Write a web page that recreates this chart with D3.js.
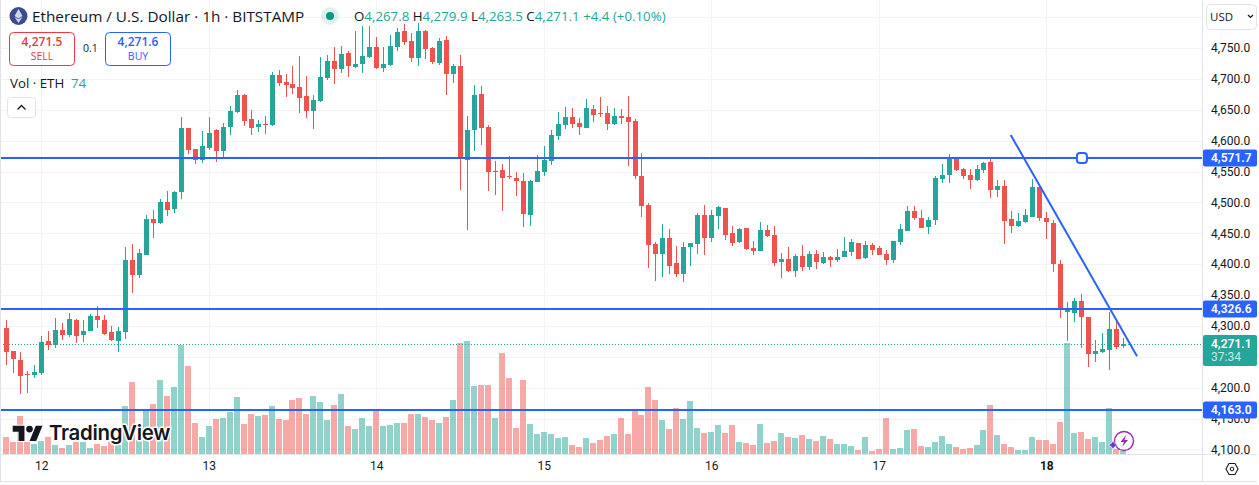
<!DOCTYPE html>
<html><head><meta charset="utf-8">
<script src="https://cdn.jsdelivr.net/npm/d3@7/dist/d3.min.js"></script>
<style>
html,body{margin:0;padding:0;background:#fff;overflow:hidden}
svg{display:block;font-family:"Open Sans",Roboto,sans-serif}
.pa .domain,.pa .tick line,.ta .domain,.ta .tick line{display:none}
</style></head><body><div id="c"></div>
<script>
const opens=[4297,4259,4245,4222,4220,4224,4275,4269,4293,4285,4310,4285,4292,4316,4310,4290,4275,4290,4407,4382,4415,4473,4466,4500,4489,4517,4620,4586,4569,4588,4617,4583,4622,4646,4674,4635,4622,4627,4625,4706,4695,4692,4687,4672,4648,4664,4701,4729,4716,4742,4719,4724,4735,4752,4718,4722,4752,4778,4761,4734,4778,4750,4726,4763,4708,4721,4569,4617,4676,4622,4549,4552,4543,4539,4535,4480,4533,4549,4567,4608,4625,4638,4629,4620,4651,4645,4645,4627,4640,4638,4632,4543,4496,4433,4416,4442,4402,4384,4428,4433,4480,4442,4478,4491,4450,4436,4459,4426,4421,4455,4447,4403,4408,4389,4413,4395,4416,4402,4411,4407,4411,4420,4434,4410,4431,4426,4416,4407,4436,4454,4486,4475,4460,4471,4538,4544,4570,4554,4544,4536,4552,4565,4520,4526,4473,4462,4468,4476,4525,4475,4467,4400,4323,4321,4340,4314,4254,4258,4261,4295,4267.8];
const highs=[4310,4260,4258,4227,4237,4284,4292,4313,4305,4321,4311,4310,4319,4332,4318,4300,4298,4428,4433,4424,4480,4488,4505,4518,4518,4638,4621,4587,4616,4638,4619,4629,4656,4682,4675,4650,4633,4640,4711,4714,4708,4721,4737,4705,4674,4735,4739,4752,4753,4745,4778,4786,4786,4768,4752,4771,4782,4789,4774,4790,4779,4752,4766,4769,4724,4739,4640,4690,4688,4625,4567,4562,4575,4549,4548,4536,4577,4591,4617,4646,4654,4653,4637,4667,4658,4671,4656,4653,4651,4672,4635,4580,4499,4436,4465,4457,4429,4436,4435,4483,4496,4488,4494,4491,4462,4459,4459,4437,4468,4463,4462,4418,4428,4416,4431,4421,4423,4419,4413,4424,4444,4441,4434,4437,4434,4429,4423,4438,4465,4494,4494,4488,4476,4543,4562,4578,4571,4556,4554,4561,4565,4570,4536,4536,4486,4483,4489,4538,4525,4484,4472,4407,4339,4345,4352,4315,4277,4289,4323,4308,4279.9];
const lows=[4237,4224,4190,4191,4216,4220,4261,4264,4277,4282,4272,4274,4291,4297,4286,4275,4258,4279,4353,4377,4414,4442,4465,4478,4483,4505,4578,4562,4564,4585,4565,4572,4609,4645,4624,4609,4614,4611,4624,4688,4671,4676,4645,4637,4619,4663,4698,4692,4710,4703,4718,4710,4734,4716,4711,4721,4745,4755,4727,4721,4732,4724,4722,4674,4693,4520,4455,4583,4593,4518,4512,4486,4538,4510,4460,4462,4533,4543,4561,4601,4619,4620,4609,4620,4630,4638,4617,4626,4627,4559,4538,4476,4394,4373,4379,4384,4379,4371,4397,4416,4415,4436,4457,4439,4429,4434,4423,4415,4421,4444,4397,4377,4388,4379,4389,4390,4392,4400,4395,4403,4411,4413,4408,4408,4415,4414,4399,4402,4431,4453,4471,4458,4449,4463,4531,4531,4551,4538,4522,4535,4548,4507,4509,4433,4450,4460,4467,4476,4470,4441,4387,4313,4276,4306,4264,4233,4241,4256,4228,4263,4263.5];
const closes=[4258,4246,4219,4220,4225,4274,4269,4293,4285,4311,4284,4292,4316,4310,4287,4277,4292,4407,4382,4418,4473,4466,4500,4488,4517,4620,4585,4569,4591,4612,4583,4622,4648,4674,4632,4620,4627,4625,4706,4693,4690,4685,4669,4648,4666,4703,4729,4716,4740,4721,4724,4737,4752,4718,4724,4753,4776,4760,4734,4778,4748,4727,4761,4708,4721,4572,4617,4674,4620,4549,4551,4539,4541,4535,4481,4535,4551,4569,4609,4627,4638,4627,4622,4653,4642,4643,4627,4640,4637,4630,4543,4494,4431,4416,4442,4397,4384,4428,4434,4480,4442,4480,4493,4447,4434,4457,4424,4421,4455,4446,4402,4408,4389,4413,4395,4416,4403,4411,4407,4411,4421,4436,4408,4431,4423,4415,4407,4437,4457,4486,4475,4459,4471,4539,4544,4570,4552,4543,4536,4554,4564,4520,4526,4470,4462,4470,4479,4525,4475,4468,4400,4326,4325,4340,4314,4254,4259,4263,4295,4266,4271.1];
const volumes=[425,300,950,300,250,325,425,225,150,225,300,300,150,250,200,300,225,1200,1800,350,1100,1250,1850,1450,1675,2725,2200,775,425,700,875,900,1050,1425,750,1000,950,975,1200,875,850,1350,1400,1000,1450,1300,850,1225,1500,700,625,900,700,1125,700,725,775,775,1000,1000,925,850,775,925,1350,2775,2825,1700,1725,1725,900,2525,1900,650,1850,750,500,550,500,400,425,225,175,400,275,350,450,500,900,500,1075,975,1675,1350,850,625,1150,875,1325,650,525,550,725,525,725,300,275,225,750,275,325,525,425,400,475,375,325,450,375,250,250,200,100,425,75,125,900,125,150,600,625,200,175,300,450,250,175,125,150,225,600,1225,475,250,175,100,100,425,350,350,250,800,2775,525,550,375,425,300,1150,125,74];
const priceTicks=[4800,4750,4700,4650,4600,4550,4500,4450,4400,4350,4300,4250,4200,4150,4100];
const priceLabels=[4750,4700,4650,4600,4550,4500,4450,4400,4350,4300,4200,4150,4100];
const dayIndex=[5,29,53,77,101,125,149];
const dayLabels=["12","13","14","15","16","17","18"];
const levels=[4571.7,4326.6,4163.0];
const trendI=[143.9,162], trendP=[4609,4251];
const handleI=154.1;
const lastPrice=4271.1;

const W=1259,H=485,right=1202,bottom=454;
const green="#26a69a",red="#ef5350",blue="#2962ff",ink="#131722";
const fmt=d3.format(",.1f");
const x=d3.scaleLinear().domain([0,160]).range([6.3,1123.1]);
const y=d3.scaleLinear().domain([4100,4750]).range([449.4,48]);
const v=d3.scaleLinear().domain([0,2825]).range([bottom,341]);

const svg=d3.select("#c").append("svg").attr("width",W).attr("height",H).attr("viewBox",[0,0,W,H]);
svg.append("defs").append("clipPath").attr("id","pane").append("rect").attr("x",0).attr("y",0).attr("width",right).attr("height",bottom);
const pane=svg.append("g").attr("clip-path","url(#pane)");

// grid
const g=pane.append("g").attr("stroke","#f2f3f5").attr("shape-rendering","crispEdges");
g.selectAll(".h").data(priceTicks).join("line").attr("x1",0).attr("x2",right).attr("y1",d=>Math.round(y(d))+.5).attr("y2",d=>Math.round(y(d))+.5);
g.selectAll(".v").data(dayIndex).join("line").attr("y1",0).attr("y2",bottom).attr("x1",d=>Math.round(x(d))+.5).attr("x2",d=>Math.round(x(d))+.5);

// volume
const idx=d3.range(closes.length);
pane.append("g").attr("shape-rendering","crispEdges").selectAll("rect").data(idx).join("rect")
 .attr("x",i=>Math.round(x(i))-3).attr("width",6)
 .attr("y",i=>v(volumes[i])).attr("height",i=>bottom-v(volumes[i]))
 .attr("fill",i=>closes[i]>=opens[i]?green:red).attr("fill-opacity",.5);

// dotted last price
const ly=Math.round(y(lastPrice))+.5;
pane.append("line").attr("x1",0).attr("x2",right).attr("y1",ly).attr("y2",ly)
 .attr("stroke",green).attr("stroke-dasharray","1 2").attr("stroke-width",1).attr("shape-rendering","crispEdges");

// candles
const cg=pane.append("g").attr("shape-rendering","crispEdges");
cg.selectAll(".w").data(idx).join("rect").attr("x",i=>Math.round(x(i))).attr("width",1)
 .attr("y",i=>y(highs[i])).attr("height",i=>y(lows[i])-y(highs[i]))
 .attr("fill",i=>closes[i]>=opens[i]?green:red);
cg.selectAll(".b").data(idx).join("rect").attr("x",i=>Math.round(x(i))-2).attr("width",5)
 .attr("y",i=>y(Math.max(opens[i],closes[i])))
 .attr("height",i=>Math.max(1,Math.abs(y(opens[i])-y(closes[i]))))
 .attr("fill",i=>closes[i]>=opens[i]?green:red);

// levels
pane.selectAll(".lv").data(levels).join("line").attr("x1",0).attr("x2",right)
 .attr("y1",d=>Math.round(y(d))).attr("y2",d=>Math.round(y(d))).attr("stroke",blue).attr("stroke-width",2).attr("shape-rendering","crispEdges");
pane.append("line").attr("x1",x(trendI[0])).attr("y1",y(trendP[0])).attr("x2",x(trendI[1])).attr("y2",y(trendP[1]))
 .attr("stroke",blue).attr("stroke-width",2);
pane.append("rect").attr("x",x(handleI)-5).attr("y",Math.round(y(levels[0]))-5).attr("width",10).attr("height",10).attr("rx",3)
 .attr("fill","#fff").attr("stroke",blue).attr("stroke-width",2);

// logo
const logo=pane.append("g");
logo.append("text").attr("x",49).attr("y",440).attr("font-family","Inter,Roboto,sans-serif").attr("font-size",20.4).attr("font-weight",600)
 .attr("fill",ink).attr("stroke","#fff").attr("stroke-width",3).attr("paint-order","stroke").attr("stroke-linejoin","round").attr("letter-spacing","-0.3").text("TradingView");
const mark=logo.append("g").attr("transform","translate(12.7,422.4) scale(0.84)").attr("fill",ink).attr("stroke","#fff").attr("stroke-width",2.5).attr("paint-order","stroke");
mark.append("path").attr("d","M14 22H7V11H0V4h14v18zM28 22h-8l7.5-18h8L28 22z");
mark.append("circle").attr("cx",20).attr("cy",8).attr("r",4);

// assistant icon
const ai=pane.append("g").attr("transform","translate(1124,441)");
ai.append("circle").attr("r",9.5).attr("fill","#fff").attr("fill-opacity",.9).attr("stroke","#9c27b0").attr("stroke-width",1.4);
ai.append("path").attr("d","M2-6-3.5 1H0L-2 6 4-1H.5z").attr("fill","#9c27b0");
ai.append("path").attr("d","M-11-.5q1 3.5 5 4.5q-4 1-5 4.5q-1-3.5-5-4.5q4-1 5-4.5z").attr("fill","#5d3fd3").attr("stroke","#fff").attr("stroke-width",.6);

// frame
const fr=svg.append("g").attr("stroke","#e0e3eb").attr("shape-rendering","crispEdges");
fr.append("line").attr("x1",right+.5).attr("x2",right+.5).attr("y1",0).attr("y2",482);
fr.append("line").attr("x1",0).attr("x2",W-2).attr("y1",bottom+.5).attr("y2",bottom+.5);
fr.append("line").attr("x1",0).attr("x2",W-2).attr("y1",481.5).attr("y2",481.5);
fr.append("line").attr("x1",.5).attr("x2",.5).attr("y1",0).attr("y2",482);

// price axis
const axisFont=`Roboto,sans-serif`;
const pa=svg.append("g").attr("class","pa").attr("transform",`translate(${right},0)`)
 .call(d3.axisRight(y).tickValues(priceLabels).tickSize(0).tickPadding(9).tickFormat(fmt));
pa.selectAll("text").attr("font-family",axisFont).attr("font-size",12).attr("fill",ink);

// time axis
const ta=svg.append("g").attr("class","ta").attr("transform",`translate(0,${bottom})`)
 .call(d3.axisBottom(x).tickValues(dayIndex).tickSize(0).tickPadding(7).tickFormat((d,i)=>dayLabels[i]));
ta.selectAll("text").attr("font-family",axisFont).attr("font-size",12).attr("fill",ink).attr("font-weight",(d,i)=>i==6?700:400);

// price labels
function tag(val,y0,h,fill){
 svg.append("rect").attr("x",right+1).attr("y",y0).attr("width",54).attr("height",h).attr("rx",2).attr("fill",fill);
 svg.append("text").attr("x",1211).attr("y",y0+12.7).attr("font-family",axisFont).attr("font-size",12).attr("font-weight",600).attr("fill","#fff").text(fmt(val));
}
levels.forEach(d=>tag(d,Math.round(y(d))-8.5,17,blue));
tag(lastPrice,335,31,green);
svg.append("text").attr("x",1211).attr("y",361).attr("font-family",axisFont).attr("font-size",12).attr("fill","#fff").attr("fill-opacity",.75).text("37:34");

// USD selector
svg.append("rect").attr("x",1206.5).attr("y",4.5).attr("width",50).attr("height",25).attr("rx",4).attr("fill","#fff").attr("stroke","#e0e3eb");
svg.append("text").attr("x",1210).attr("y",21).attr("font-size",11.5).attr("fill",ink).text("USD");
svg.append("path").attr("d","M1248 15l2.5 2.5 2.5-2.5").attr("fill","none").attr("stroke",ink).attr("stroke-width",1.2);
// settings
svg.append("path").attr("d","M1226 469l3-5.5h6l3 5.5-3 5.5h-6z").attr("fill","none").attr("stroke",ink).attr("stroke-width",1.1);
svg.append("circle").attr("cx",1232).attr("cy",469).attr("r",1.8).attr("fill","none").attr("stroke",ink).attr("stroke-width",1);

// header
const hd=svg.append("g");
hd.append("circle").attr("cx",18.5).attr("cy",16).attr("r",9).attr("fill","#3c4a8f");
hd.append("path").attr("d","M18.5 9l-4 7 4 2.4 4-2.4zM18.5 19.3l-4-2.4 4 6 4-6z").attr("fill","#cfd6f2");
hd.append("text").attr("x",32).attr("y",21.5).attr("font-size",15.3).attr("fill",ink).text("Ethereum / U.S. Dollar · 1h · BITSTAMP");
hd.append("circle").attr("cx",330).attr("cy",16).attr("r",9).attr("fill",green).attr("fill-opacity",.15);
hd.append("circle").attr("cx",330).attr("cy",16).attr("r",4).attr("fill","#089981");
const i0=closes.length-1;
const ohlc=hd.append("text").attr("x",354).attr("y",21).attr("font-size",13.3).attr("fill",green);
[["O",opens[i0]],["H",highs[i0]],["L",lows[i0]],["C",closes[i0]]].forEach(([k,val])=>{
  ohlc.append("tspan").attr("fill",ink).text(k);
  ohlc.append("tspan").text(fmt(val)+" ");
});
ohlc.append("tspan").text("+4.4 (+0.10%)");

function box(x0,col,price,label){
 hd.append("rect").attr("x",x0+.5).attr("y",32.5).attr("width",65).attr("height",33).attr("rx",4).attr("fill","#fff").attr("stroke",col);
 hd.append("text").attr("x",x0+33).attr("y",46).attr("text-anchor","middle").attr("font-size",12).attr("font-weight",600).attr("fill",col).text(price);
 hd.append("text").attr("x",x0+33).attr("y",60).attr("text-anchor","middle").attr("font-size",10.5).attr("fill",col).text(label);
}
box(9,"#f23645","4,271.5","SELL");
box(105,"#2962ff","4,271.6","BUY");
hd.append("text").attr("x",83).attr("y",52).attr("font-size",10.5).attr("fill",ink).text("0.1");
hd.append("text").attr("x",10).attr("y",87.5).attr("font-size",13.3).attr("fill",ink).text("Vol · ETH");
hd.append("text").attr("x",71).attr("y",87.5).attr("font-size",13.3).attr("fill",green).text("74");
hd.append("rect").attr("x",7.5).attr("y",97.5).attr("width",28).attr("height",20).attr("rx",3).attr("fill","#fff").attr("stroke","#e0e3eb");
hd.append("path").attr("d","M17.5 109.5l4-4 4 4").attr("fill","none").attr("stroke",ink).attr("stroke-width",1.3);
</script></body></html>
